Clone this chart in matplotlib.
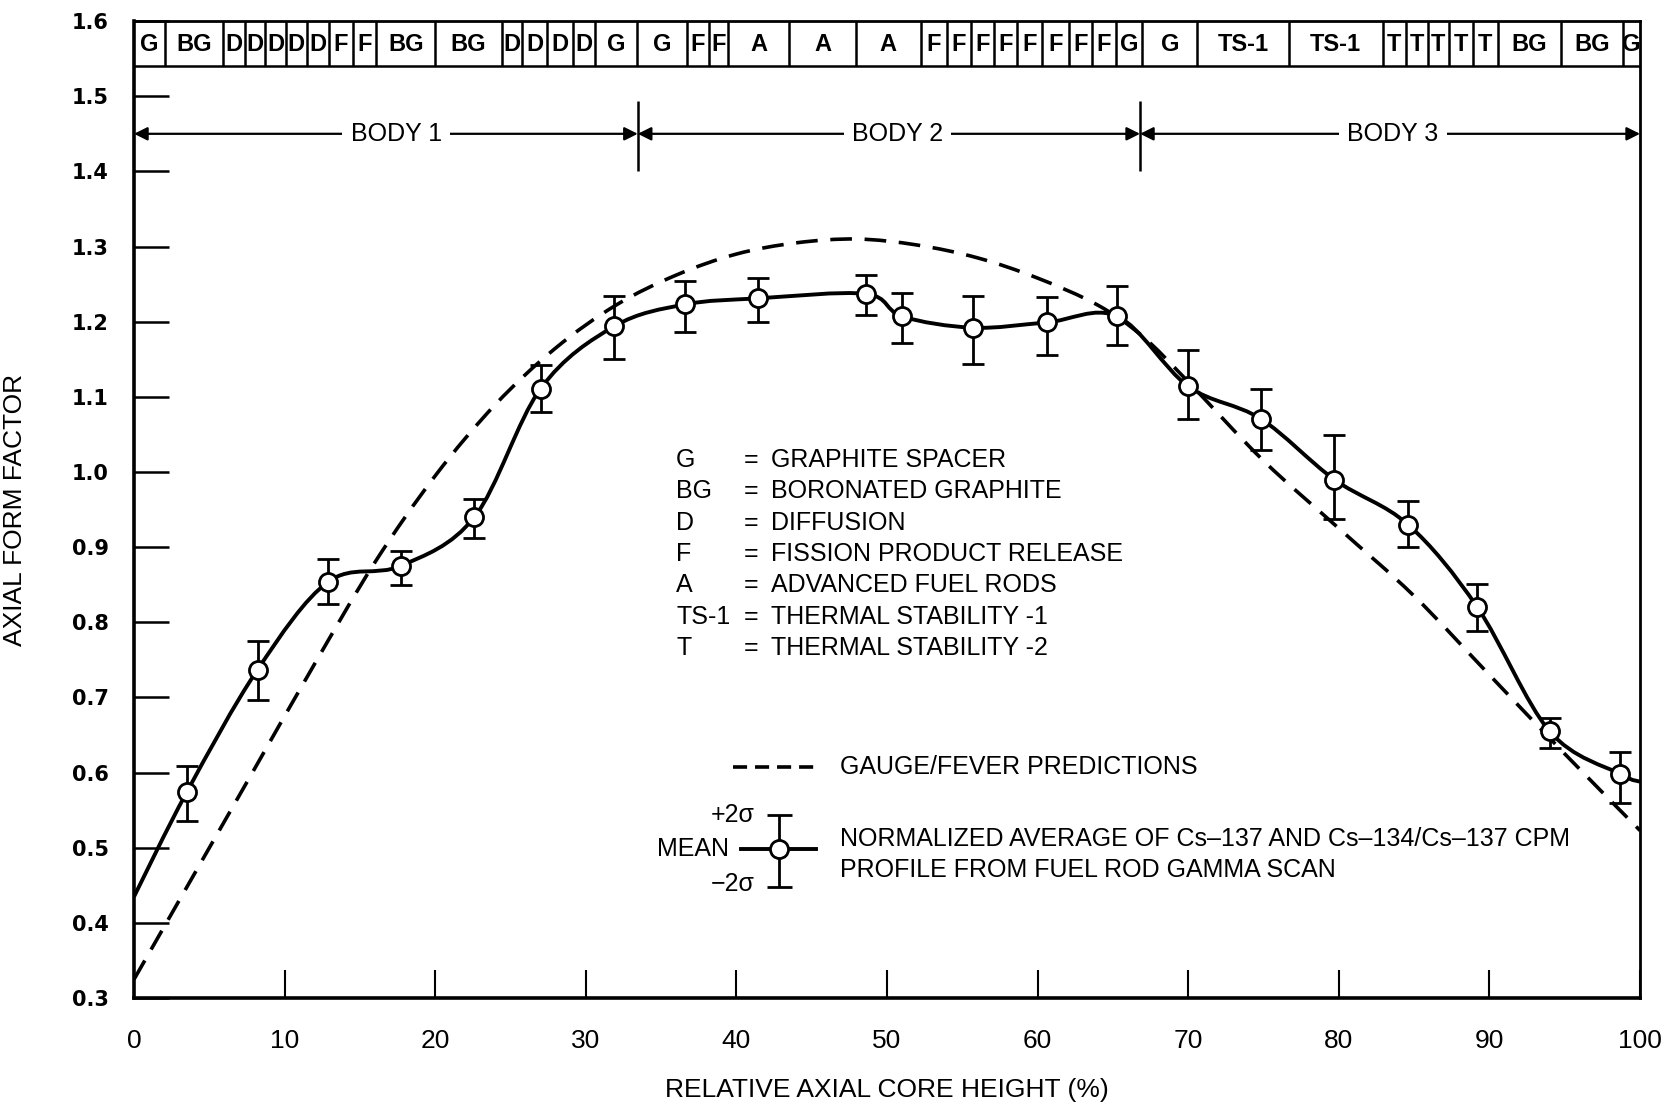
import numpy as np
import matplotlib.pyplot as plt
from matplotlib.path import Path
from matplotlib.patches import PathPatch

# Gamma-scan mean values with +/-2 sigma limits
x_meas = [3.5, 8.2, 12.9, 17.7, 22.6, 27.0, 31.9, 36.6, 41.4, 48.6, 51.0,
          55.7, 60.6, 65.3, 70.0, 74.8, 79.7, 84.6, 89.2, 94.0, 98.7]
y_mean = [0.574, 0.737, 0.854, 0.875, 0.940, 1.111, 1.194, 1.223, 1.231, 1.237, 1.207,
          1.192, 1.199, 1.207, 1.114, 1.071, 0.990, 0.930, 0.820, 0.655, 0.598]
y_hi = [0.609, 0.775, 0.884, 0.895, 0.964, 1.142, 1.234, 1.254, 1.258, 1.262, 1.238,
        1.234, 1.233, 1.248, 1.163, 1.110, 1.049, 0.961, 0.851, 0.673, 0.628]
y_lo = [0.536, 0.696, 0.824, 0.850, 0.912, 1.080, 1.151, 1.186, 1.199, 1.209, 1.172,
        1.144, 1.156, 1.169, 1.070, 1.029, 0.937, 0.900, 0.789, 0.633, 0.559]

# ends of the fitted profile at the core boundaries
profile_ends = [(0.0, 0.435), (100.0, 0.588)]

# GAUGE/FEVER prediction
x_pred = [0, 4, 8, 12, 16, 20, 24, 28, 32, 36, 40, 44, 48, 52, 56, 60, 64, 67,
          70, 75, 80, 85, 90, 95, 100]
y_pred = [0.325, 0.465, 0.605, 0.745, 0.88, 0.995, 1.09, 1.165, 1.222, 1.262, 1.29,
          1.305, 1.31, 1.302, 1.285, 1.258, 1.222, 1.18, 1.12, 1.015, 0.925,
          0.835, 0.73, 0.625, 0.523]

# test element layout along the core
seg_edges = [0, 2.06, 5.93, 7.38, 8.70, 10.08, 11.48, 12.96, 14.53, 16.1, 20.0, 24.43,
             25.76, 27.42, 29.12, 30.63, 33.40, 36.72, 38.16, 39.45, 43.52, 47.91,
             52.23, 54.0, 55.55, 57.10, 58.65, 60.31, 62.08, 63.63, 65.18, 66.96,
             70.61, 76.66, 82.92, 84.45, 85.89, 87.33, 88.88, 90.54, 94.75, 98.85, 100]
seg_labels = ['G', 'BG', 'D', 'D', 'D', 'D', 'D', 'F', 'F', 'BG', 'BG', 'D', 'D', 'D',
              'D', 'G', 'G', 'F', 'F', 'A', 'A', 'A', 'F', 'F', 'F', 'F', 'F', 'F',
              'F', 'F', 'G', 'G', 'TS-1', 'TS-1', 'T', 'T', 'T', 'T', 'T', 'BG', 'BG',
              'G']

body_edges = [0, 33.45, 66.8, 100]
body_names = ['BODY 1', 'BODY 2', 'BODY 3']
body_label_x = [17.4, 50.7, 83.6]

key_codes = ['G', 'BG', 'D', 'F', 'A', 'TS-1', 'T']
key_names = ['GRAPHITE SPACER', 'BORONATED GRAPHITE', 'DIFFUSION',
             'FISSION PRODUCT RELEASE', 'ADVANCED FUEL RODS',
             'THERMAL STABILITY -1', 'THERMAL STABILITY -2']

SANS = ['Liberation Sans', 'DejaVu Sans']


def smooth_path(xs, ys):
    # Catmull-Rom knots turned into cubic Bezier segments
    p = np.column_stack([xs, ys]).astype(float)
    p = np.vstack([p[0], p, p[-1]])
    verts = [p[1]]
    codes = [Path.MOVETO]
    for i in range(1, len(p) - 2):
        c1 = p[i] + (p[i + 1] - p[i - 1]) / 6.0
        c2 = p[i + 1] - (p[i + 2] - p[i]) / 6.0
        verts += [c1, c2, p[i + 1]]
        codes += [Path.CURVE4] * 3
    return Path(verts, codes)


fig = plt.figure(figsize=(16.65, 11.09), dpi=100)
ax = fig.add_axes([0.0805, 0.100, 0.9045, 0.881])
ax.set_xlim(0, 100)
ax.set_ylim(0.3, 1.6)

for side in ['left', 'bottom']:
    ax.spines[side].set_linewidth(2.6)
for side in ['top', 'right']:
    ax.spines[side].set_linewidth(2.0)

ax.set_xticks(np.arange(0, 101, 10))
ax.set_yticks(np.round(np.arange(0.3, 1.61, 0.1), 1))
ax.set_yticklabels([f'{v:.1f}' for v in np.arange(0.3, 1.61, 0.1)],
                   fontsize=15, fontweight='bold', family='DejaVu Sans')
ax.set_xticklabels([str(v) for v in range(0, 101, 10)], fontsize=19, family=SANS)
ax.tick_params(axis='y', direction='in', length=25, width=1.8, pad=18)
ax.tick_params(axis='x', direction='in', length=20, width=1.5, pad=22)

ax.set_xlabel('RELATIVE AXIAL CORE HEIGHT (%)', fontsize=19, family=SANS)
ax.set_ylabel('AXIAL FORM FACTOR', fontsize=19, family=SANS)
ax.xaxis.set_label_coords(0.5, -0.082)
ax.yaxis.set_label_coords(-0.0714, 0.5)

# element strip along the top
ax.hlines(1.54, 0, 100, color='k', lw=1.8)
ax.vlines(seg_edges[1:-1], 1.54, 1.6, color='k', lw=1.8)
for a, b, lab in zip(seg_edges[:-1], seg_edges[1:], seg_labels):
    ax.text((a + b) / 2, 1.569, lab, ha='center', va='center', fontsize=17,
            fontweight='bold', family=SANS)

# body extents
ax.vlines(body_edges[1:-1], 1.40, 1.494, color='k', lw=1.8)
for a, b, name, xt in zip(body_edges[:-1], body_edges[1:], body_names, body_label_x):
    ax.annotate('', xy=(a, 1.45), xytext=(b, 1.45),
                arrowprops=dict(arrowstyle='<|-|>', color='k', lw=1.6,
                                mutation_scale=20, shrinkA=0, shrinkB=0))
    ax.text(xt, 1.45, name, ha='center', va='center', fontsize=18,
            family=SANS, bbox=dict(facecolor='white', edgecolor='none', pad=6))

# prediction curve
ax.add_patch(PathPatch(smooth_path(x_pred, y_pred), fill=False, lw=2.6,
                       linestyle=(0, (6, 3.5)), edgecolor='k'))

# measured profile
prof_x = [profile_ends[0][0]] + x_meas + [profile_ends[1][0]]
prof_y = [profile_ends[0][1]] + y_mean + [profile_ends[1][1]]
ax.add_patch(PathPatch(smooth_path(prof_x, prof_y), fill=False, lw=2.8, edgecolor='k'))

err = [np.array(y_mean) - np.array(y_lo), np.array(y_hi) - np.array(y_mean)]
ax.errorbar(x_meas, y_mean, yerr=err, fmt='o', color='k', ms=13, mfc='white',
            mec='k', mew=2, ecolor='k', elinewidth=2, capsize=8, capthick=2, zorder=5)

# key of element codes
for i, (code, name) in enumerate(zip(key_codes, key_names)):
    yk = 1.016 - i * 0.0417
    ax.text(36.0, yk, code, ha='left', va='center', fontsize=18, family=SANS)
    ax.text(40.5, yk, '=', ha='left', va='center', fontsize=18, family=SANS)
    ax.text(42.3, yk, name, ha='left', va='center', fontsize=18, family=SANS)

# line legend
ax.plot([39.8, 45.4], [0.607, 0.607], color='k', lw=2.6, linestyle=(0, (3.9, 2.2)))
ax.text(46.9, 0.607, 'GAUGE/FEVER PREDICTIONS', ha='left', va='center',
        fontsize=18, family=SANS)
ax.plot([40.3, 45.3], [0.498, 0.498], color='k', lw=2.8)
ax.errorbar([42.8], [0.498], yerr=[[0.05], [0.046]], fmt='o', color='k', ms=13,
            mfc='white', mec='k', mew=2, elinewidth=2, capsize=9, capthick=2, zorder=5)
ax.text(41.2, 0.544, '+2σ', ha='right', va='center', fontsize=18, family=SANS)
ax.text(39.5, 0.498, 'MEAN', ha='right', va='center', fontsize=18, family=SANS)
ax.text(41.2, 0.452, '−2σ', ha='right', va='center', fontsize=18, family=SANS)
ax.text(46.9, 0.512, 'NORMALIZED AVERAGE OF Cs–137 AND Cs–134/Cs–137 CPM',
        ha='left', va='center', fontsize=18, family=SANS)
ax.text(46.9, 0.471, 'PROFILE FROM FUEL ROD GAMMA SCAN',
        ha='left', va='center', fontsize=18, family=SANS)

fig.savefig('out.png', dpi=100)
